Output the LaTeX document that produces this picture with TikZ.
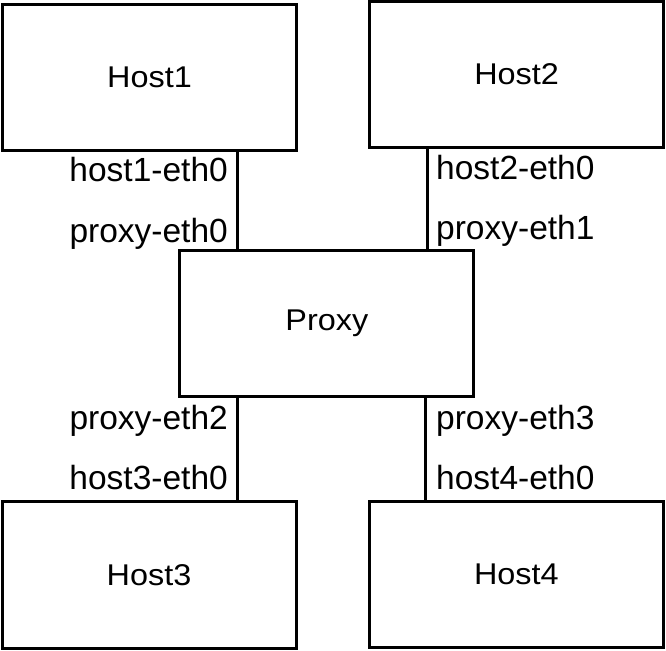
\documentclass[tikz,border=0pt]{standalone}
\usepackage{fontspec}
\setmainfont{Liberation Sans}
\newfontfamily\boxfont{Liberation Sans}[FakeStretch=1.08]
\usepackage{tikz}

\tikzset{
  hostbox/.style={draw, line width=3pt, minimum width=294pt, minimum height=146pt,
    inner sep=0pt, font=\boxfont\fontsize{30}{36}\selectfont},
  link/.style={line width=3pt},
  portL/.style={anchor=base east, inner sep=0pt, font=\fontsize{33.5}{40}\selectfont},
  portR/.style={anchor=base west, inner sep=0pt, font=\fontsize{33.5}{40}\selectfont}
}

\begin{document}
\begin{tikzpicture}[x=1pt, y=1pt]
                \useasboundingbox (0,0) rectangle (666,650);

                % Hosts and proxy
                \node[hostbox] (host1) at (149.5, 572.2) {Host1};
                \node[hostbox] (host2) at (516.6, 575.5) {Host2};
                \node[hostbox] (proxy) at (326.8, 326.5) {Proxy};
                \node[hostbox] (host3) at (149.0, 75.0) {Host3};
                \node[hostbox] (host4) at (516.4, 75.7) {Host4};

                % Links
                \coordinate (linkA) at (237.7, 0);
                \coordinate (linkB) at (427.8, 0);
                \coordinate (linkC) at (237.7, 0);
                \coordinate (linkD) at (425.0, 0);
                \draw[link] (host1.south -| linkA) -- (proxy.north -| linkA);
                \draw[link] (host2.south -| linkB) -- (proxy.north -| linkB);
                \draw[link] (proxy.south -| linkC) -- (host3.north -| linkC);
                \draw[link] (proxy.south -| linkD) -- (host4.north -| linkD);

                % Interface labels
                \node[portL] (h1eth0) at (228, 468.3) {host1-eth0};
                \node[portL] (peth0) at (228, 407.7) {proxy-eth0};
                \node[portR] (h2eth0) at (436, 470.3) {host2-eth0};
                \node[portR] (peth1) at (436, 410.0) {proxy-eth1};
                \node[portL] (peth2) at (228, 220.7) {proxy-eth2};
                \node[portL] (h3eth0) at (228, 160.7) {host3-eth0};
                \node[portR] (peth3) at (436, 220.7) {proxy-eth3};
                \node[portR] (h4eth0) at (436, 160.7) {host4-eth0};
            \end{tikzpicture}
\end{document}
